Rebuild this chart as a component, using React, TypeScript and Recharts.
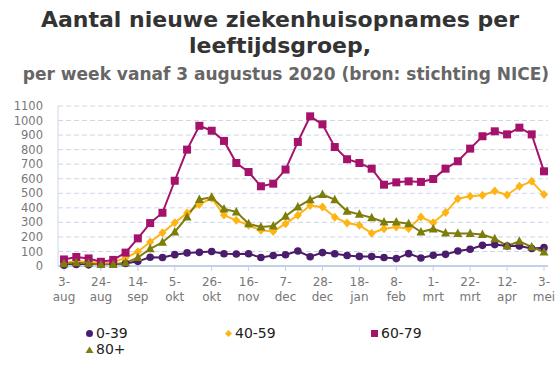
import React from 'react';
import { LineChart, Line, XAxis, YAxis, CartesianGrid } from 'recharts';

// weekly data, starting 3 August 2020
const weeks = [
  '3-aug', '10-aug', '17-aug', '24-aug', '31-aug', '7-sep', '14-sep', '21-sep', '28-sep', '5-okt',
  '12-okt', '19-okt', '26-okt', '2-nov', '9-nov', '16-nov', '23-nov', '30-nov', '7-dec', '14-dec',
  '21-dec', '28-dec', '4-jan', '11-jan', '18-jan', '25-jan', '1-feb', '8-feb', '15-feb', '22-feb',
  '1-mrt', '8-mrt', '15-mrt', '22-mrt', '29-mrt', '5-apr', '12-apr', '19-apr', '26-apr', '3-mei',
];

const age0to39 = [
  5, 10, 8, 10, 12, 18, 32, 60, 58, 78,
  90, 94, 100, 84, 82, 84, 58, 72, 77, 103,
  64, 92, 84, 72, 66, 65, 58, 51, 85, 55,
  74, 80, 103, 115, 142, 147, 138, 138, 120, 126,
];
const age40to59 = [
  22, 32, 28, 20, 28, 55, 98, 165, 228, 298,
  365, 423, 466, 350, 314, 280, 245, 238, 291, 349,
  416, 406, 335, 295, 280, 225, 256, 268, 257, 337,
  298, 367, 463, 479, 486, 516, 488, 548, 582, 491,
];
const age60to79 = [
  45, 62, 52, 29, 42, 92, 190, 295, 366, 586,
  800, 964, 930, 860, 708, 646, 548, 566, 663, 853,
  1029, 974, 818, 734, 708, 669, 559, 575, 582, 578,
  598, 669, 720, 807, 892, 926, 905, 951, 905, 651,
];
const age80plus = [
  16, 22, 18, 10, 10, 22, 58, 118, 163, 234,
  337, 457, 472, 392, 372, 290, 268, 275, 342, 406,
  456, 491, 456, 376, 355, 332, 303, 303, 291, 234,
  255, 227, 223, 223, 216, 188, 138, 170, 131, 96,
];

const yTicks = [0, 100, 200, 300, 400, 500, 600, 700, 800, 900, 1000, 1100];

const chartData = weeks.map((week, i) => ({
  week,
  a: age0to39[i],
  b: age40to59[i],
  c: age60to79[i],
  d: age80plus[i],
}));

const PURPLE = '#4b1c6b';
const YELLOW = '#fdb515';
const MAGENTA = '#a5126b';
const OLIVE = '#7d7d0c';

const FONT = '"DejaVu Sans", Verdana, sans-serif';

const circleDot = (p: any) => (
  <circle key={`a${p.index}`} cx={p.cx} cy={p.cy} r={3.8} fill={PURPLE} />
);
const diamondDot = (p: any) => (
  <path
    key={`b${p.index}`}
    d={`M${p.cx},${p.cy - 4.5}L${p.cx + 4},${p.cy}L${p.cx},${p.cy + 4.5}L${p.cx - 4},${p.cy}Z`}
    fill={YELLOW}
  />
);
const squareDot = (p: any) => (
  <rect key={`c${p.index}`} x={p.cx - 4} y={p.cy - 4} width={8} height={8} fill={MAGENTA} />
);
const triangleDot = (p: any) => (
  <path
    key={`d${p.index}`}
    d={`M${p.cx},${p.cy - 5}L${p.cx + 4.5},${p.cy + 3.5}L${p.cx - 4.5},${p.cy + 3.5}Z`}
    fill={OLIVE}
  />
);

const WeekTick = (props: any) => {
  const { x, y, payload } = props;
  const [day, month] = String(payload.value).split('-');
  return (
    <g transform={`translate(${x},${y})`}>
      <text textAnchor="middle" fill="#777" fontSize={12} fontFamily={FONT}>
        <tspan x={0} dy={13}>{day}-</tspan>
        <tspan x={0} dy={15}>{month}</tspan>
      </text>
    </g>
  );
};

const legendItems = [
  { label: '0-39', color: PURPLE, shape: 'circle', left: 85, top: 0 },
  { label: '40-59', color: YELLOW, shape: 'diamond', left: 224, top: 0 },
  { label: '60-79', color: MAGENTA, shape: 'square', left: 370, top: 0 },
  { label: '80+', color: OLIVE, shape: 'triangle', left: 85, top: 16 },
];

const LegendMark = ({ shape, color }: { shape: string; color: string }) => (
  <svg width={9} height={9} style={{ marginRight: 2 }}>
    {shape === 'circle' && <circle cx={4.5} cy={4.5} r={3.5} fill={color} />}
    {shape === 'diamond' && <path d="M4.5,1L8,4.5L4.5,8L1,4.5Z" fill={color} />}
    {shape === 'square' && <rect x={1} y={1} width={7} height={7} fill={color} />}
    {shape === 'triangle' && <path d="M4.5,1.5L8.5,8L0.5,8Z" fill={color} />}
  </svg>
);

export default function App() {
  return (
    <div style={{ position: 'absolute', left: 0, top: 0, width: 560, height: 373, background: '#fff', overflow: 'hidden' }}>
      <div
        style={{
          position: 'absolute',
          left: 0,
          top: 7,
          width: 560,
          textAlign: 'center',
          fontFamily: FONT,
          fontWeight: 'bold',
          fontSize: 22,
          lineHeight: '26px',
          color: '#333',
        }}
      >
        Aantal nieuwe ziekenhuisopnames per
        <br />
        leeftijdsgroep,
      </div>
      <div
        style={{
          position: 'absolute',
          left: 6,
          top: 64,
          width: 560,
          textAlign: 'center',
          fontFamily: FONT,
          fontWeight: 'bold',
          fontSize: 17,
          lineHeight: '20px',
          color: '#666',
        }}
      >
        per week vanaf 3 augustus 2020 (bron: stichting NICE)
      </div>
      <div style={{ position: 'absolute', left: 0, top: 0 }}>
        <LineChart width={560} height={373} data={chartData} margin={{ top: 106, right: 12, bottom: 67, left: 0 }}>
          <CartesianGrid vertical={false} stroke="#c9d6ea" strokeDasharray="5 3" />
          <XAxis
            dataKey="week"
            interval={2}
            tick={<WeekTick />}
            height={40}
            padding={{ left: 6, right: 4 }}
            stroke="#c3d1e6"
            strokeWidth={2}
            tickSize={5}
            tickLine={{ stroke: '#c3d1e6', strokeWidth: 1 }}
          />
          <YAxis
            domain={[0, 1100]}
            ticks={yTicks}
            interval={0}
            width={58}
            tickLine={false}
            stroke="#cdd8e8"
            tick={{ fill: '#777', fontSize: 11.5, fontFamily: FONT }}
            tickMargin={9}
          />
          <Line dataKey="a" name="0-39" stroke={PURPLE} strokeWidth={2} dot={circleDot} isAnimationActive={false} />
          <Line dataKey="b" name="40-59" stroke={YELLOW} strokeWidth={2} dot={diamondDot} isAnimationActive={false} />
          <Line dataKey="c" name="60-79" stroke={MAGENTA} strokeWidth={2} dot={squareDot} isAnimationActive={false} />
          <Line dataKey="d" name="80+" stroke={OLIVE} strokeWidth={2} dot={triangleDot} isAnimationActive={false} />
        </LineChart>
      </div>
      <div style={{ position: 'absolute', left: 0, top: 325, width: 560, height: 40 }}>
        {legendItems.map((item) => (
          <div
            key={item.label}
            style={{
              position: 'absolute',
              left: item.left,
              top: item.top,
              display: 'flex',
              alignItems: 'center',
              fontFamily: FONT,
              fontSize: 14,
              color: '#222',
              lineHeight: '16px',
            }}
          >
            <LegendMark shape={item.shape} color={item.color} />
            {item.label}
          </div>
        ))}
      </div>
    </div>
  );
}
